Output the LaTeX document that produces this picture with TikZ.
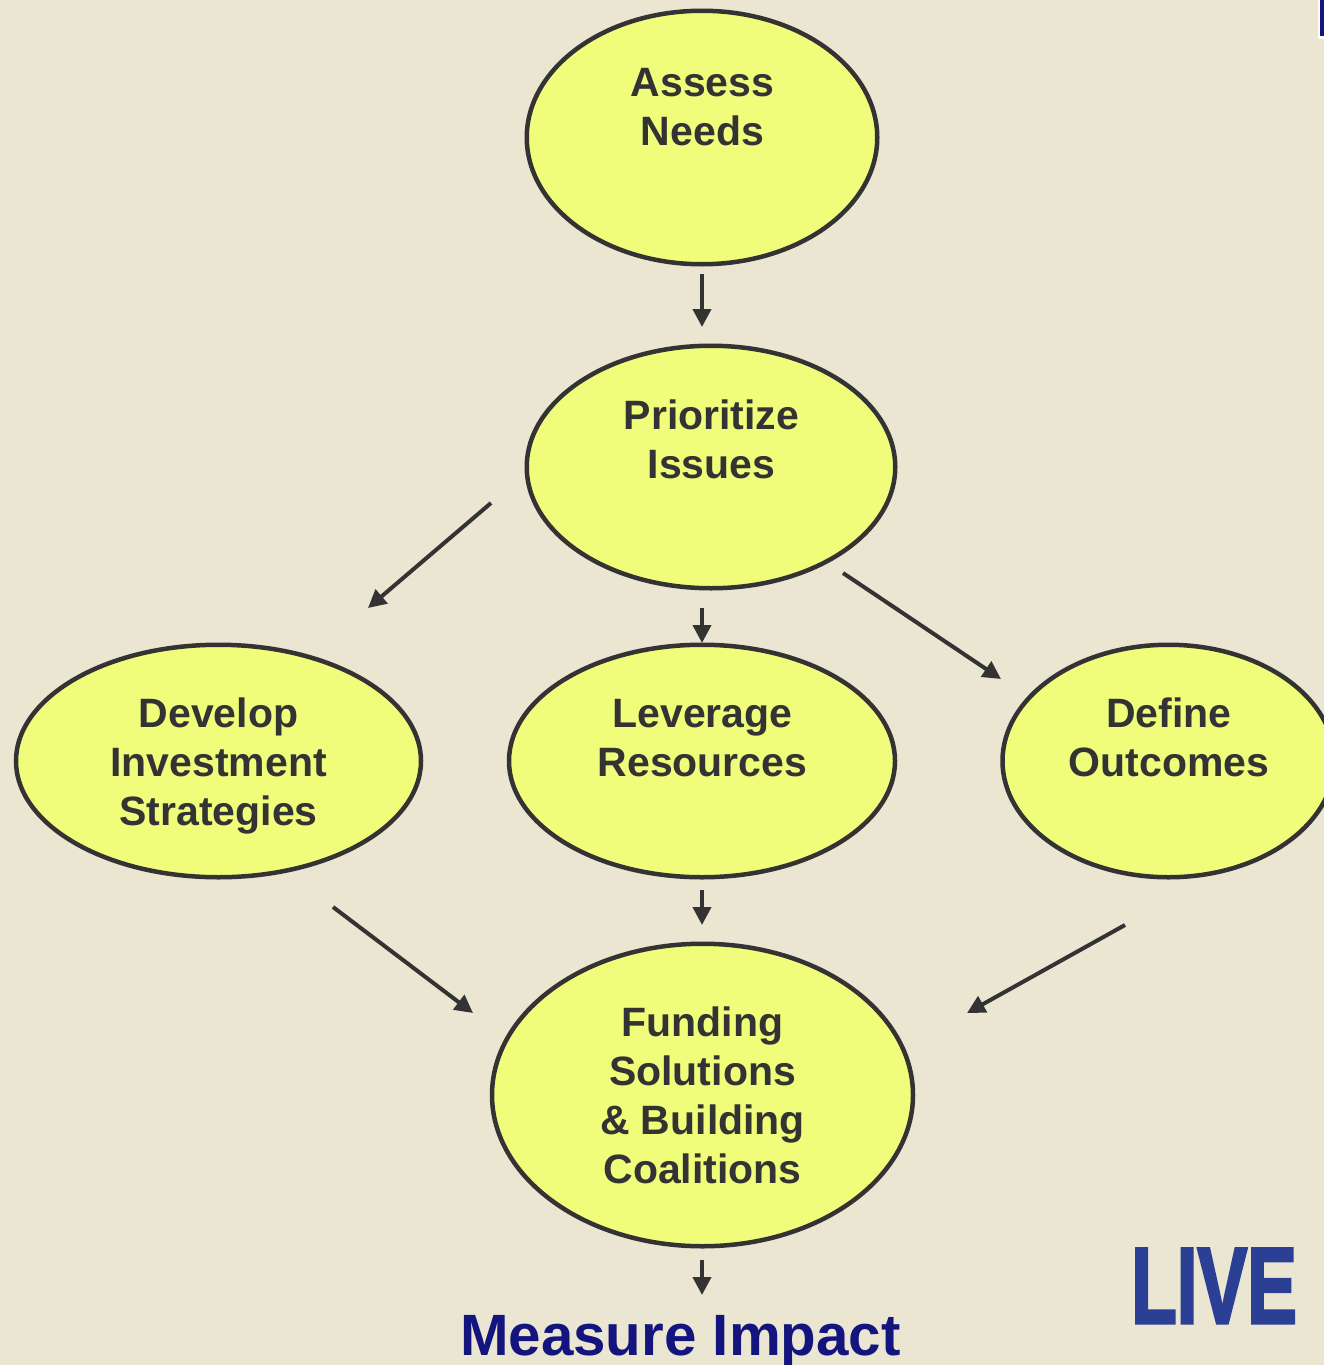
\documentclass[tikz,border=0pt]{standalone}
\usepackage{fontspec}
\setmainfont{Liberation Sans}
\newfontfamily\livefont[UprightFont={* Bold},FakeBold=3]{Liberation Sans}
\usetikzlibrary{arrows.meta,shapes.geometric}
\definecolor{bgc}{HTML}{EAE6D2}
\definecolor{fillc}{HTML}{EFFD7A}
\definecolor{inkc}{HTML}{333333}
\definecolor{navyc}{HTML}{14147F}
\definecolor{livec}{HTML}{2B3F94}
\tikzset{
  bubble/.style={ellipse,draw=inkc,fill=fillc,line width=4.5pt,inner sep=0pt,outer sep=0pt},
  bubbletext/.style={align=center,text=inkc,font=\fontsize{41}{49}\selectfont\bfseries,inner sep=0pt},
  flow/.style={draw=inkc,line width=4pt,-{Triangle[length=18pt,width=18pt]}}
}
\begin{document}
\begin{tikzpicture}[x=1pt,y=-1pt]
\useasboundingbox (0,0) rectangle (1324,1365);
\clip (0,0) rectangle (1324,1365);
\fill[bgc] (0,0) rectangle (1324,1365);
\fill[white] (1318,0) rectangle (1324,39);
\fill[navyc] (1320,0) rectangle (1324,36);

\node[bubble,minimum width=350.5pt,minimum height=253.5pt] (assess) at (702,137.5) {};
\node[bubble,minimum width=368.5pt,minimum height=242.5pt] (prior) at (711,467) {};
\node[bubble,minimum width=405pt,minimum height=232.5pt] (dev) at (218.5,761) {};
\node[bubble,minimum width=386pt,minimum height=232.5pt] (lev) at (702,761) {};
\node[bubble,minimum width=332pt,minimum height=232.5pt] (def) at (1168.5,761) {};
\node[bubble,minimum width=421pt,minimum height=302.5pt] (fund) at (702.5,1095) {};

\node[bubbletext] (assessT) at (702.5,107) {Assess\\Needs};
\node[bubbletext] (priorT) at (711.5,439) {Prioritize\\Issues};
\node[bubbletext] (devT) at (218.5,765.5) {Develop\\Investment\\Strategies};
\node[bubbletext] (levT) at (702.5,738) {Leverage\\Resources};
\node[bubbletext] (defT) at (1169,737) {Define\\Outcomes};
\node[bubbletext] (fundT) at (702.5,1095) {Funding\\Solutions\\\& Building\\Coalitions};

\node[text=navyc,font=\fontsize{58.3}{66}\selectfont\bfseries,inner sep=0pt,anchor=base] (measure) at (680.5,1355.5) {Measure Impact};
\node[text=livec,font=\livefont\fontsize{108}{108}\selectfont,inner sep=0pt,anchor=base,xscale=0.69] (live) at (1214,1323) {LIVE};

\coordinate (a1) at (702,274); \coordinate (a2) at (702,327);
\coordinate (b1) at (491,503); \coordinate (b2) at (368,608);
\coordinate (c1) at (702,608); \coordinate (c2) at (702,643);
\coordinate (d1) at (843,573); \coordinate (d2) at (1001,679);
\coordinate (e1) at (702,890); \coordinate (e2) at (702,925);
\coordinate (f1) at (333,907); \coordinate (f2) at (473,1013);
\coordinate (g1) at (1125,925); \coordinate (g2) at (967,1013);
\coordinate (h1) at (702,1260); \coordinate (h2) at (702,1295);
\draw[flow] (a1) -- (a2);
\draw[flow] (b1) -- (b2);
\draw[flow] (c1) -- (c2);
\draw[flow] (d1) -- (d2);
\draw[flow] (e1) -- (e2);
\draw[flow] (f1) -- (f2);
\draw[flow] (g1) -- (g2);
\draw[flow] (h1) -- (h2);
\end{tikzpicture}
\end{document}
